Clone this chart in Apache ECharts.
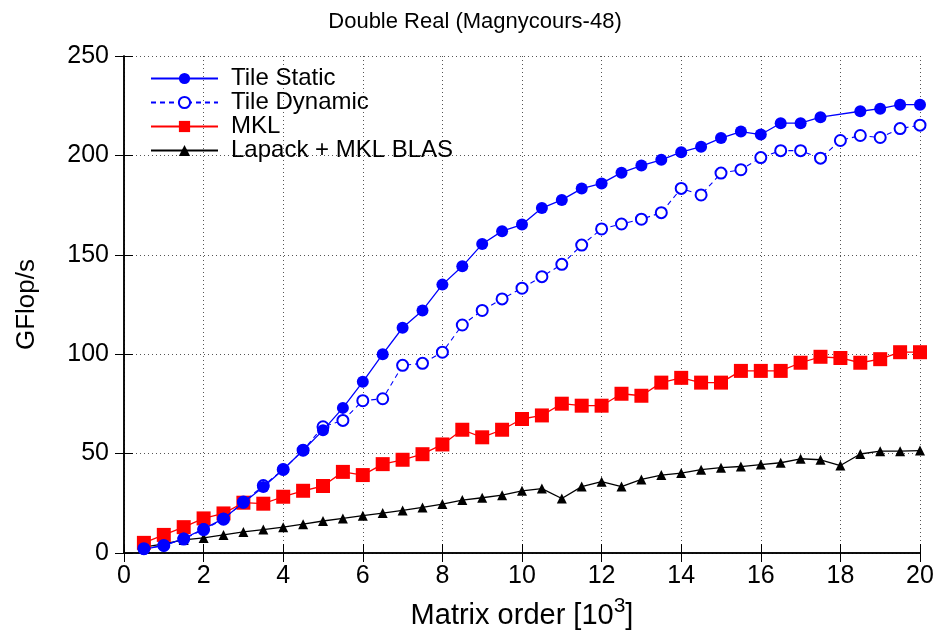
<!DOCTYPE html>
<html>
<head>
<meta charset="utf-8">
<script src="https://cdn.jsdelivr.net/npm/echarts@6/dist/echarts.min.js"></script>
<style>
html,body{margin:0;padding:0;background:#fff;}
#chart{width:937px;height:635px;}
</style>
</head>
<body>
<div id="chart"></div>
<script>
var matrixOrder = [0.5,1,1.5,2,2.5,3,3.5,4,4.5,5,5.5,6,6.5,7,7.5,8,8.5,9,9.5,10,10.5,11,11.5,12,12.5,13,13.5,14,14.5,15,15.5,16,16.5,17,17.5,18,18.5,19,19.5,20];
var tileStatic = [2.0,3.7,7.3,12.1,17.3,25.3,33.2,42.0,51.7,61.7,73.0,86.1,100,113.3,122,135,144.2,155.4,161.9,165.2,173.5,177.6,183.3,185.9,191.3,194.9,197.8,201.6,204.4,208.7,212,210.5,216.2,216.2,219.2,null,222.2,223.5,225.5,225.5];
var tileDynamic = [2.2,3.8,7.0,11.8,17.0,25.6,33.9,42.0,51.7,63.5,66.7,76.6,77.6,94.4,95.4,101,114.7,122,127.8,133.2,139,145.2,154.9,163,165.5,167.9,171.2,183.4,180.1,191.1,192.8,198.9,202.4,202.4,198.6,207.5,210,209,213.5,215.2];
var mkl = [5.1,9.1,13,17.4,19.9,25.3,24.8,28.3,31.3,33.7,40.8,39.2,44.7,46.9,49.7,54.6,62,58.2,62,67.4,69.2,75.1,74.1,74.1,80.1,79.1,85.7,88.1,85.7,85.7,91.6,91.6,91.6,95.7,98.7,98.1,95.7,97.5,101,101];
var lapack = [3.0,4.6,6.6,7.6,9.1,10.6,11.8,13,14.5,16.1,17.4,18.8,20.1,21.4,22.9,24.6,26.6,27.8,29.1,31.3,32.4,27.4,33.4,35.9,33.4,37,39.2,40.2,41.9,42.9,43.5,44.5,45.4,47.4,46.9,44,49.8,51.2,51.2,51.5];
var seriesNames = ['Tile Static','Tile Dynamic','MKL','Lapack + MKL BLAS'];
var xTicks = {min:0, max:20, interval:2};
var yTicks = {min:0, max:250, interval:50};

function pairs(ys){
  var out = [];
  for (var i = 0; i < matrixOrder.length; i++) {
    if (ys[i] !== null && ys[i] !== undefined) out.push([matrixOrder[i], ys[i]]);
  }
  return out;
}

var FONT = '"Liberation Sans", Arial, Helvetica, sans-serif';
var chart = echarts.init(document.getElementById('chart'), null, {renderer:'canvas'});

var gridLine = {show:true, lineStyle:{color:'#555', width:1, type:[1,3]}};
var axisLine = {show:true, lineStyle:{color:'#000', width:1.5}};
var tick = {show:true, inside:true, length:9, lineStyle:{color:'#000', width:1}};

chart.setOption({
  animation:false,
  backgroundColor:'#fff',
  title:{
    text:'Double Real (Magnycours-48)',
    left:470, top:6, textAlign:'center',
    textStyle:{fontFamily:FONT, fontSize:22, fontWeight:'normal', color:'#000'}
  },
  grid:{left:124, right:17, top:56, bottom:75, containLabel:false},
  legend:{
    orient:'vertical', left:145, top:61,
    itemWidth:67, itemHeight:14, itemGap:-1,
    textStyle:{fontFamily:FONT, fontSize:24, color:'#000', padding:[3,0,0,8], lineHeight:22},
    data:seriesNames
  },
  xAxis:[{
    type:'value', min:xTicks.min, max:xTicks.max, interval:xTicks.interval, position:'bottom',
    axisLine:axisLine, axisTick:tick, splitLine:gridLine,
    axisLabel:{fontFamily:FONT, fontSize:25, color:'#000', margin:11},
    name:'Matrix order [10{sup|3}]', nameLocation:'middle', nameGap:43,
    nameTextStyle:{fontFamily:FONT, fontSize:29, color:'#000',
      rich:{sup:{fontFamily:FONT, fontSize:21, color:'#000', verticalAlign:'top', padding:[0,0,18,0]}}}
  },{
    type:'value', min:xTicks.min, max:xTicks.max, interval:xTicks.interval, position:'top',
    axisLine:axisLine, axisTick:tick, splitLine:{show:false}, axisLabel:{show:false}
  }],
  yAxis:[{
    type:'value', min:yTicks.min, max:yTicks.max, interval:yTicks.interval, position:'left',
    axisLine:axisLine, axisTick:tick, splitLine:gridLine,
    axisLabel:{fontFamily:FONT, fontSize:25, color:'#000', margin:15},
    name:'GFlop/s', nameLocation:'middle', nameGap:84, nameRotate:90,
    nameTextStyle:{fontFamily:FONT, fontSize:26, color:'#000'}
  },{
    type:'value', min:yTicks.min, max:yTicks.max, interval:yTicks.interval, position:'right',
    axisLine:axisLine, axisTick:tick, splitLine:{show:false}, axisLabel:{show:false}
  }],
  series:[{
    name:seriesNames[0], type:'line', data:pairs(tileStatic), connectNulls:true,
    symbol:'circle', symbolSize:12, showAllSymbol:true,
    lineStyle:{color:'#0000ff', width:1.3}, itemStyle:{color:'#0000ff'}, z:5
  },{
    name:seriesNames[1], type:'line', data:pairs(tileDynamic),
    symbol:'emptyCircle', symbolSize:11, showAllSymbol:true,
    lineStyle:{color:'#0000ff', width:1.1, type:[5,4]}, itemStyle:{color:'#0000ff', borderColor:'#0000ff', borderWidth:1.2}, z:4
  },{
    name:seriesNames[2], type:'line', data:pairs(mkl),
    symbol:'rect', symbolSize:14, showAllSymbol:true,
    lineStyle:{color:'#ff0000', width:1.3}, itemStyle:{color:'#ff0000'}, z:3
  },{
    name:seriesNames[3], type:'line', data:pairs(lapack),
    symbol:'triangle', symbolSize:10, showAllSymbol:true,
    lineStyle:{color:'#000', width:1.3}, itemStyle:{color:'#000'}, z:2
  }]
});
</script>
</body>
</html>
